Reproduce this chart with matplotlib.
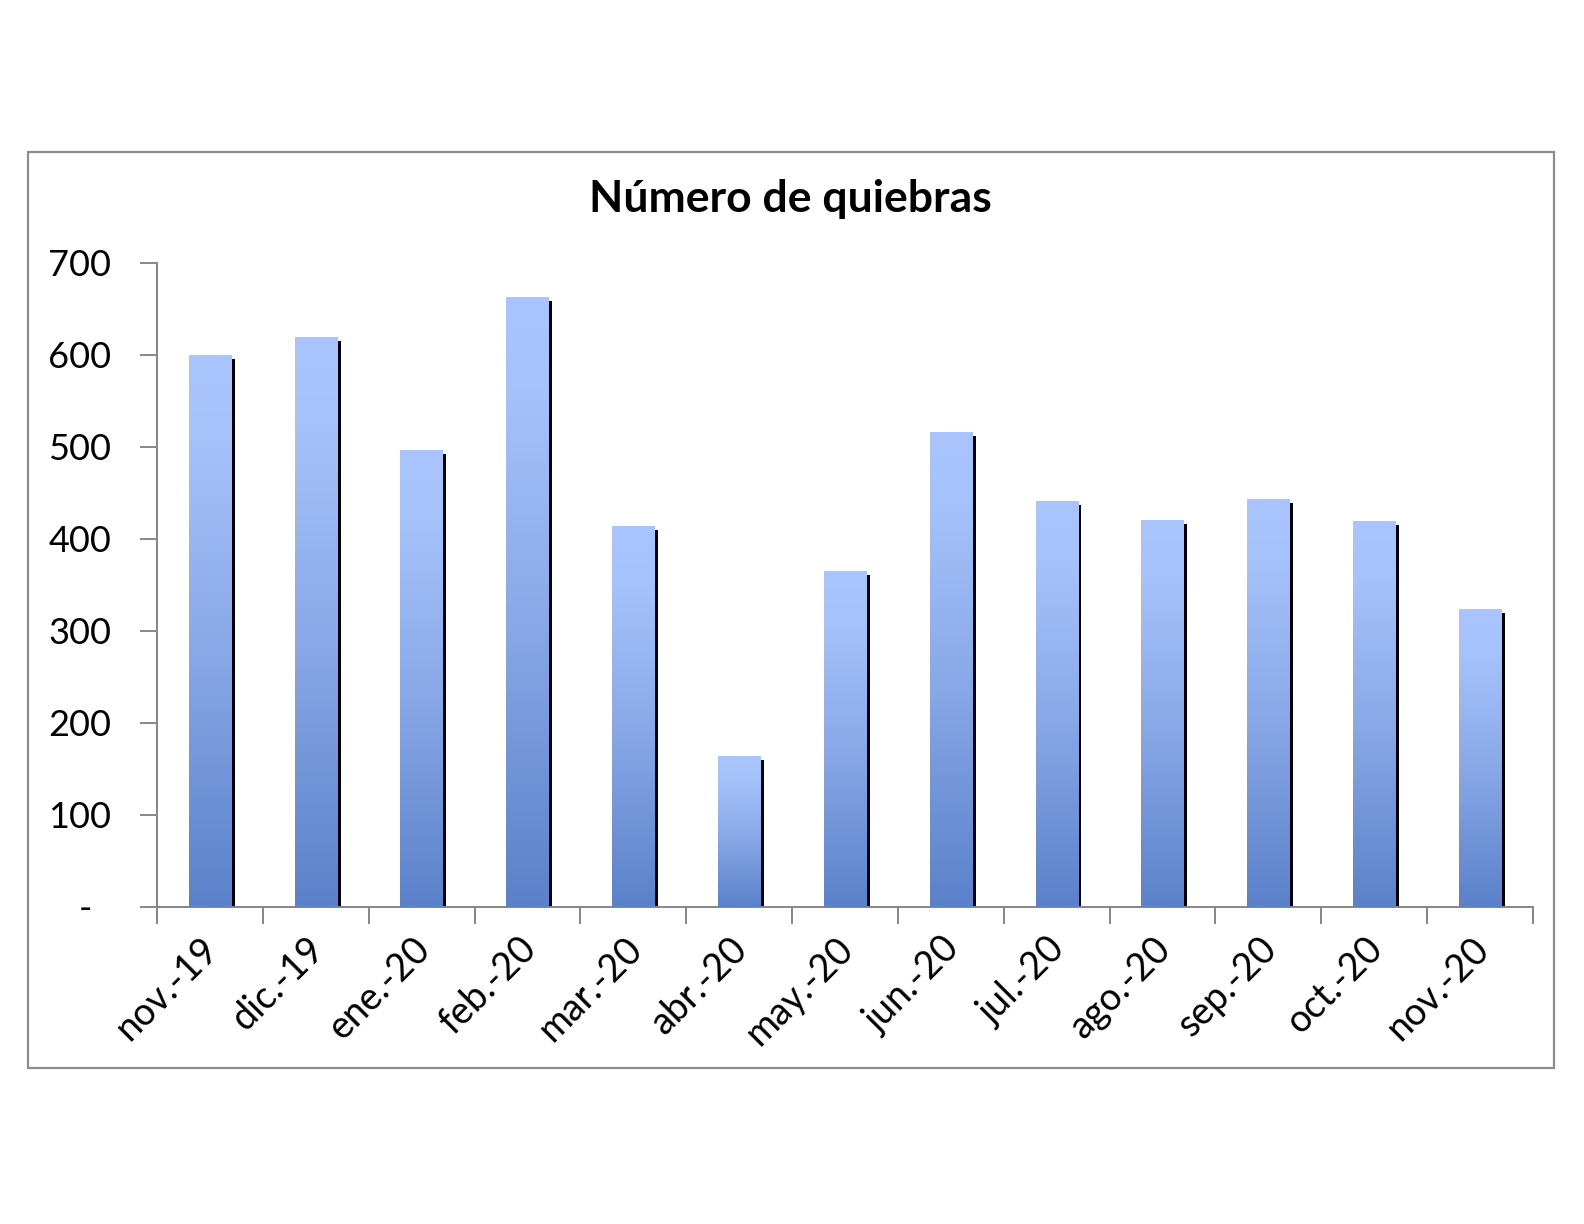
import numpy as np
import matplotlib
matplotlib.use("Agg")
import matplotlib.pyplot as plt
from matplotlib.colors import LinearSegmentedColormap
from matplotlib.patches import Rectangle
from matplotlib.transforms import ScaledTranslation

# data
months = ["nov.-19", "dic.-19", "ene.-20", "feb.-20", "mar.-20", "abr.-20",
          "may.-20", "jun.-20", "jul.-20", "ago.-20", "sep.-20", "oct.-20",
          "nov.-20"]
quiebras = [600, 619, 496, 662, 414, 164, 365, 516, 441, 420, 443, 419, 323]
yticks = [0, 100, 200, 300, 400, 500, 600, 700]
ytick_labels = ["-  ", "100", "200", "300", "400", "500", "600", "700"]

FONT = "Lato"
AXIS_GRAY = "#868686"

W, H, DPI = 1584, 1224, 100
fig = plt.figure(figsize=(W / DPI, H / DPI), dpi=DPI)
fig.patch.set_facecolor("white")

# chart frame (Excel chart area border)
fig.patches.append(Rectangle((28 / W, 1 - 1068 / H), (1554 - 28) / W,
                             (1068 - 152) / H, transform=fig.transFigure,
                             fill=False, edgecolor="#8c8c8c", linewidth=1.6))

ax = fig.add_axes([157 / W, 1 - 907 / H, (1533 - 157) / W, (907 - 263) / H])
ax.set_facecolor("none")

# vertical gradient fill: light on top, darker at the base
cmap = LinearSegmentedColormap.from_list(
    "bars", [(0.0, "#5a81ca"), (0.45, "#87a7e6"), (0.85, "#a6c2fb"),
             (1.0, "#aac5fd")])
grad = np.linspace(0, 1, 256).reshape(-1, 1)
bw = 0.40
ax_px_w = (1533 - 157)
ax_px_h = (907 - 263)
sw = 4.0 / ax_px_w * len(months)       # shadow width, data units
drop = 3.5 / ax_px_h * 700             # shadow top offset, data units

x = np.arange(len(months))
for xi, v in zip(x, quiebras):
    ax.bar(xi + bw / 2 + sw / 2 - 0.004, v - drop, width=sw, color="black",
           zorder=2, linewidth=0)
    ax.imshow(grad, extent=[xi - bw / 2, xi + bw / 2, 0, v], origin="lower",
              aspect="auto", cmap=cmap, zorder=3, interpolation="bilinear")

ax.set_xlim(-0.5, len(months) - 0.5)
ax.set_ylim(0, 700)

for side in ("top", "right"):
    ax.spines[side].set_visible(False)
for side in ("left", "bottom"):
    ax.spines[side].set_color(AXIS_GRAY)
    ax.spines[side].set_linewidth(1.4)

ax.set_yticks(yticks)
ax.set_yticklabels(ytick_labels, fontsize=26, fontfamily=FONT)
ax.tick_params(axis="y", length=12, width=1.4, color=AXIS_GRAY, pad=21)

# category boundaries get the tick marks, centres get the labels
ax.set_xticks(np.arange(len(months) + 1) - 0.5)
ax.set_xticklabels([])
ax.tick_params(axis="x", which="major", length=12, width=1.4,
               color=AXIS_GRAY, direction="out")
ax.set_xticks(x, minor=True)
ax.set_xticklabels(months, minor=True, rotation=45, ha="right",
                   rotation_mode="anchor", fontsize=27, fontfamily=FONT)
ax.tick_params(axis="x", which="minor", length=0, pad=17)
shift = ScaledTranslation(-10 / DPI, 0, fig.dpi_scale_trans)
for lab in ax.get_xticklabels(minor=True):
    lab.set_transform(lab.get_transform() + shift)

fig.text(790 / W, 1 - 199 / H, "Número de quiebras",
         ha="center", va="center", fontsize=32, fontweight="bold",
         fontfamily=FONT)

fig.savefig("out.png", dpi=DPI, facecolor="white")
